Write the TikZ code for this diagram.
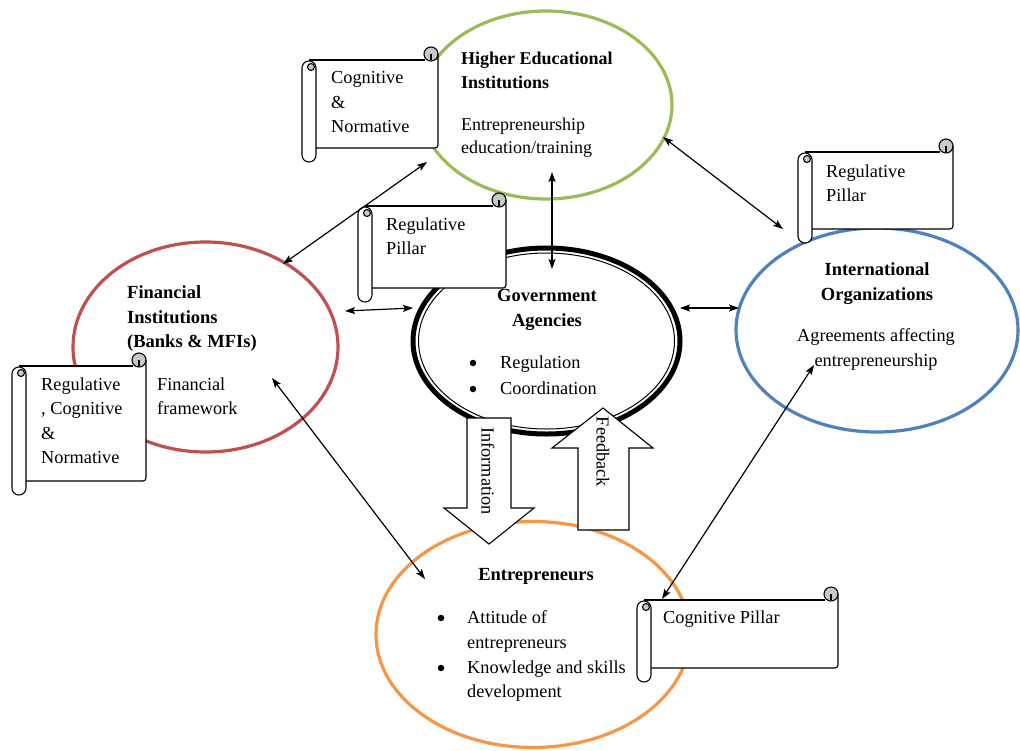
\documentclass[tikz,border=0pt]{standalone}
\usepackage{fontspec}
\setmainfont{Liberation Serif}
\usetikzlibrary{shapes.geometric,arrows.meta}
\definecolor{hgreen}{HTML}{9BBB59}
\definecolor{hred}{HTML}{C0504D}
\definecolor{hblue}{HTML}{4F81BD}
\definecolor{horange}{HTML}{F79646}
\definecolor{curlgray}{HTML}{C8C8C8}
\tikzset{
  scrl/.style={line width=1.1pt, black},
  oval/.style={ellipse, draw, inner sep=0pt, line width=3.2pt},
  txt/.style={inner sep=0pt, font=\fontsize{18.3}{24.5}\selectfont, align=left, anchor=north west},
  ctxt/.style={inner sep=0pt, font=\fontsize{18.3}{24.5}\selectfont, align=center, anchor=north},
  btxt/.style={txt, font=\fontsize{18.5}{24.5}\selectfont\bfseries},
  bctxt/.style={ctxt, font=\fontsize{18.5}{24.5}\selectfont\bfseries},
  bul/.style={inner sep=0pt, font=\fontsize{18.3}{24.5}\selectfont},
  dot/.style={circle, fill=black, inner sep=0pt, minimum size=6.5pt},
  link/.style={line width=1.2pt, {Stealth[length=10pt,width=7pt,inset=2pt]}-{Stealth[length=10pt,width=7pt,inset=2pt]}},
  blockarrow/.style={draw, fill=white, line width=1.1pt, line join=miter}
}
\newcommand\myscroll[5]{%
  \coordinate (#1) at ({(#2+#4)/2},{(#3+#5)/2});
  \fill[white] ({#2+7},{#3}) rectangle ({#4},{#5});
  \draw[scrl, fill=curlgray] ({#4-7},{#3-6}) circle (7pt);
  \draw[scrl] ({#4-7},{#3-6}) -- ({#4-7},{#3});
  \draw[scrl] ({#2+7},{#3}) -- ({#4-13},{#3});
  \draw[scrl, rounded corners=3pt] ({#4},{#3-6}) -- ({#4},{#5}) -- ({#2+14},{#5});
  \draw[scrl, fill=white, rounded corners=6.9pt] ({#2},{#3+1}) rectangle ({#2+14},{#5+14});
  \draw[scrl, fill=curlgray] ({#2+9},{#3+7}) circle (3.5pt);
}
\begin{document}
\begin{tikzpicture}[x=1pt,y=-1pt]
\useasboundingbox (0,0) rectangle (1020,750);
\fill[white] (0,0) rectangle (1020,750);

% ellipses
\node[oval, draw=hgreen, minimum width=252pt, minimum height=188pt] (hei) at (546,105) {};
\node[oval, draw=hred, minimum width=265pt, minimum height=210pt] (fin) at (205.5,347) {};
\node[oval, draw=hblue, minimum width=282pt, minimum height=204pt] (intl) at (877,330) {};
\node[oval, draw=horange, minimum width=314pt, minimum height=226pt] (ent) at (533,634.5) {};
\node[ellipse, draw, fill=white, inner sep=0pt, line width=5pt, minimum width=267pt, minimum height=186pt] (gov) at (546.5,341) {};
\draw[line width=1pt] (gov.center) ellipse [x radius=128pt, y radius=88pt];

% block arrows
\draw[blockarrow] (467,418) -- (511,418) -- (511,508) -- (534,508) -- (489,544) -- (444,508) -- (467,508) -- cycle;
\draw[blockarrow] (578,530) -- (578,448) -- (552,448) -- (603,408) -- (653,448) -- (629,448) -- (629,530) -- cycle;
\node[bul, rotate=-90] (info) at (488,471) {Information};
\node[bul, rotate=-90] (feed) at (603,452) {Feedback};

% scrolls
\myscroll{s1}{302}{60}{438}{148}
\myscroll{s2}{358}{206}{506}{288}
\myscroll{s3}{12}{366}{146}{481}
\myscroll{s4}{637}{600}{838}{668}
\myscroll{s5}{798}{152}{953}{229}

% scroll texts
\node[txt] (t1) at (331,71.5) {Cognitive\\\&\\Normative};
\node[txt] (t2) at (386,217.5) {Regulative\\Pillar};
\node[txt] (t3) at (41,377.5) {Regulative\\, Cognitive\\\&\\Normative};
\node[txt] (t4) at (663,610.5) {Cognitive Pillar};
\node[txt] (t5) at (826,164.5) {Regulative\\Pillar};

% HEI
\node[btxt, font=\fontsize{18}{24}\selectfont\bfseries] (heit) at (461,51.5) {Higher Educational\\Institutions};
\node[txt, font=\fontsize{18}{23}\selectfont] (heid) at (461,117.5) {Entrepreneurship\\education/training};

% Government
\node[bctxt, font=\fontsize{18.5}{25}\selectfont\bfseries] (govt) at (547,289.5) {Government\\Agencies};
\node[dot] (gb1) at (473,363) {};
\node[dot] (gb2) at (473,389) {};
\node[txt] (gr) at (500,355.5) {Regulation};
\node[txt] (gc) at (500,381.5) {Coordination};

% Financial
\node[btxt] (fint) at (127,285.5) {Financial\\Institutions\\(Banks \& MFIs)};
\node[txt] (find) at (157,377.5) {Financial\\framework};

% International
\node[bctxt] (intlt) at (877,262.5) {International\\Organizations};
\node[ctxt] (intld) at (876,328.5) {Agreements affecting\\entrepreneurship};

% Entrepreneurs
\node[bctxt] (entt) at (536,568.5) {Entrepreneurs};
\node[dot] (eb1) at (441,618) {};
\node[dot] (eb2) at (441,668) {};
\node[txt] (ea) at (467,610.5) {Attitude of\\entrepreneurs};
\node[txt] (ek) at (467,660.5) {Knowledge and skills\\development};

% connector end points
\coordinate (a1) at (283,264); \coordinate (a2) at (427,162);
\coordinate (b1) at (552,172); \coordinate (b2) at (552,269);
\coordinate (c1) at (345,311); \coordinate (c2) at (413,308);
\coordinate (d1) at (680,308); \coordinate (d2) at (739,308);
\coordinate (e1) at (663,137); \coordinate (e2) at (783,229);
\coordinate (f1) at (272,378); \coordinate (f2) at (425,579);
\coordinate (g1) at (814,365); \coordinate (g2) at (662,599);

\draw[link] (a1) -- (a2);
\draw[link] (b1) -- (b2);
\draw[link] (c1) -- (c2);
\draw[link] (d1) -- (d2);
\draw[link] (e1) -- (e2);
\draw[link] (f1) -- (f2);
\draw[link] (g1) -- (g2);
\end{tikzpicture}
\end{document}
